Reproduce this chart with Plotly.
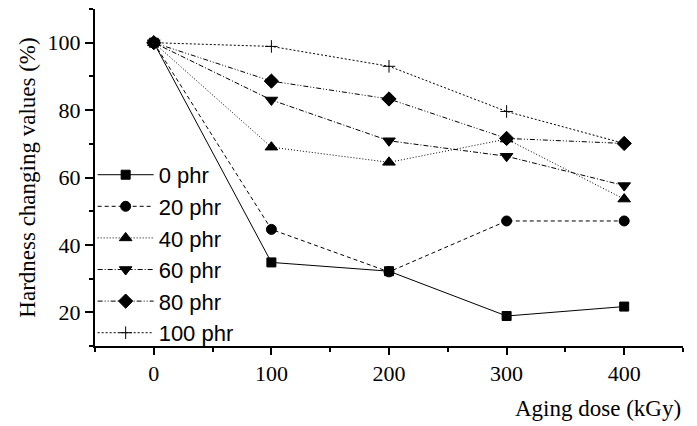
import plotly.graph_objects as go

doses = [0, 100, 200, 300, 400]
series_names = ["0 phr", "20 phr", "40 phr", "60 phr", "80 phr", "100 phr"]
phr0 = [100, 34.8, 32.2, 18.9, 21.7]
phr20 = [100, 44.6, 32.0, 47.1, 47.1]
phr40 = [100, 69.0, 64.5, 71.4, 53.6]
phr60 = [100, 83.0, 70.9, 66.3, 57.6]
phr80 = [100, 88.6, 83.3, 71.6, 70.1]
phr100 = [100, 98.9, 93.0, 79.6, 70.1]
all_values = [phr0, phr20, phr40, phr60, phr80, phr100]

symbols = ["square", "circle", "triangle-up", "triangle-down", "diamond", "cross-thin"]
dashes = ["solid", "4px,3px", "1px,2px", "5px,2px,1px,2px", "5px,2px,1px,2px,1px,2px", "2px,2px"]
sizes = [9, 10, 11, 11, 11, 9]

fig = go.Figure()
for name, vals, sym, dash, sz in zip(series_names, all_values, symbols, dashes, sizes):
    fig.add_trace(go.Scatter(
        x=doses, y=vals, name=name, mode="lines+markers",
        line=dict(color="black", width=1, dash=dash),
        marker=dict(symbol=sym, size=sz, color="black",
                    line=dict(color="black", width=1)),
    ))

serif = "Liberation Serif, Times New Roman, serif"
# the page body adds an 8px margin, so the figure is sized/margined to compensate
fig.update_layout(
    width=689, height=418,
    margin=dict(l=87, r=14, t=1, b=80),
    paper_bgcolor="white", plot_bgcolor="white",
    font=dict(family=serif, size=21, color="black"),
    showlegend=True,
    legend=dict(
        x=-0.004, y=0.57, xanchor="left", yanchor="top",
        bgcolor="rgba(0,0,0,0)",
        font=dict(family="Liberation Sans, Arial, sans-serif", size=22, color="black"),
        itemwidth=56, tracegroupgap=0,
    ),
    xaxis=dict(
        range=[-50, 450], tickmode="linear", tick0=0, dtick=100,
        showline=True, linecolor="black", linewidth=2,
        ticks="outside", ticklen=7, tickwidth=2, tickcolor="black",
        showgrid=False, zeroline=False, automargin=False,
        tickfont=dict(family=serif, size=22),
        minor=dict(tick0=-50, dtick=100, ticks="outside", ticklen=4,
                   tickwidth=2, tickcolor="black", showgrid=False),
    ),
    yaxis=dict(
        range=[10, 110], tickmode="linear", tick0=0, dtick=20,
        showline=True, linecolor="black", linewidth=2,
        ticks="outside", ticklen=8, tickwidth=2, tickcolor="black",
        showgrid=False, zeroline=False, automargin=False,
        tickfont=dict(family=serif, size=22),
        title=dict(text="Hardness changing values (%)", font=dict(family=serif, size=23), standoff=6),
        minor=dict(tick0=10, dtick=20, ticks="outside", ticklen=4,
                   tickwidth=2, tickcolor="black", showgrid=False),
    ),
    annotations=[dict(
        text="Aging dose (kGy)", xref="paper", yref="paper",
        x=1.0, y=-0.184, xanchor="right", yanchor="middle",
        showarrow=False, font=dict(family=serif, size=23, color="black"),
    )],
)

fig.write_html("out.html")
